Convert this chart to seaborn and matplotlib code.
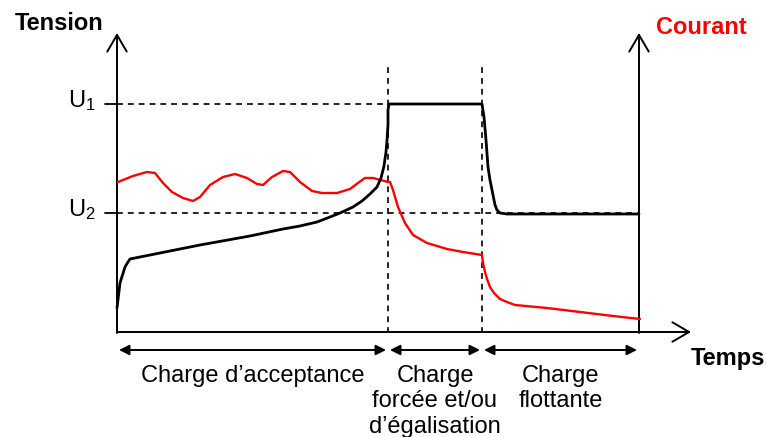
import matplotlib
matplotlib.use("Agg")
import matplotlib.pyplot as plt
import seaborn as sns

# chart units: time = pixels right of the vertical axis, level = pixels above the time axis
tension_t = [0, 3, 8, 11, 13, 83, 133, 166, 183, 200, 213, 223, 236, 245, 253, 260, 264,
             267, 269, 270, 271, 271, 272,
             365, 367, 369, 371, 373, 375, 378, 380, 383, 390, 522]
tension_v = [25, 50, 66, 71, 74, 88, 97, 104, 107, 111, 116, 120, 126, 132, 139, 146, 155,
             167, 181, 193, 208, 223, 229,
             229, 216, 193, 166, 153, 143, 128, 123, 120, 119, 119]

courant_t = [1, 16, 30, 38, 46, 55, 66, 76, 83, 93, 106, 118, 130, 140, 146, 155, 166, 173,
             183, 195, 205, 220, 233, 241, 248, 256, 271, 273, 276, 281, 288, 296, 310, 330,
             346, 365, 366, 368, 370, 373, 377, 383, 390, 398, 430, 463, 496, 523]
courant_v = [151, 157, 161, 160, 150, 141, 135, 132, 136, 148, 156, 159, 155, 149, 148, 156,
             162, 161, 151, 142, 140, 140, 144, 150, 155, 155, 151, 151, 143, 126, 110, 98,
             90, 84, 81, 78, 70, 61, 54, 46, 40, 34, 31, 28, 25, 21, 17, 14]

u_levels = [229, 120]
u_labels = ["U$_{1}$", "U$_{2}$"]
phase_bounds = [0, 271, 365, 522]
phase_labels = ["Charge d\u2019acceptance", "Charge\nforcée et/ou\nd\u2019égalisation",
                "Charge\nflottante"]

sns.set_style("white")
plt.rcParams["font.family"] = ["Liberation Sans", "DejaVu Sans"]
plt.rcParams["text.color"] = "black"
plt.rcParams["mathtext.fontset"] = "custom"
plt.rcParams["mathtext.rm"] = "Liberation Sans"
plt.rcParams["mathtext.it"] = "Liberation Sans"

fig = plt.figure(figsize=(7.67, 4.37), dpi=100)
ax = fig.add_axes([0, 0, 1, 1])
ax.set_xlim(-117, 650)
ax.set_ylim(-104, 333)
ax.axis("off")

dash = (0, (3.5, 3))

# reference levels U1 / U2
for lvl, lab, end in zip(u_levels, u_labels, [phase_bounds[1], phase_bounds[3]]):
    ax.plot([-12, 0], [lvl, lvl], color="black", lw=1.3)
    ax.plot([0, end], [lvl, lvl], color="black", lw=1.2, linestyle=dash)
    ax.text(-21, lvl + 3, lab, fontsize=17, ha="right", va="center")

# phase separators
for b in phase_bounds[1:3]:
    ax.plot([b, b], [0, 266], color="black", lw=1.2, linestyle=dash)

sns.lineplot(x=tension_t, y=tension_v, color="black", lw=2, sort=False,
             estimator=None, ax=ax, zorder=5)
sns.lineplot(x=courant_t, y=courant_v, color="red", lw=1.7, sort=False,
             estimator=None, ax=ax, zorder=4)

# axes with open arrowheads
open_head = dict(arrowstyle="->,head_length=1.2,head_width=0.7", lw=1.4,
                 color="black", shrinkA=0, shrinkB=0)
ax.annotate("", xy=(0, 300), xytext=(0, 0), arrowprops=open_head)
ax.annotate("", xy=(phase_bounds[3], 300), xytext=(phase_bounds[3], 0), arrowprops=open_head)
ax.annotate("", xy=(574, 1), xytext=(0, 1), arrowprops=open_head)

# phase ranges
fill_head = dict(arrowstyle="<|-|>,head_length=0.6,head_width=0.3", lw=1.4,
                 color="black", shrinkA=0, shrinkB=0)
for (a, b), lab in zip(zip(phase_bounds[:-1], phase_bounds[1:]), phase_labels):
    ax.annotate("", xy=(a + 2, -17), xytext=(b - 2, -17), arrowprops=fill_head)
    ax.text((a + b) / 2, -32, lab, fontsize=17, ha="center", va="top", linespacing=1.2)

ax.text(-102, 309, "Tension", fontsize=17, fontweight="bold", ha="left", va="center")
ax.text(539, 305, "Courant", fontsize=17, fontweight="bold", color="red",
        ha="left", va="center")
ax.text(574, -25, "Temps", fontsize=17, fontweight="bold", ha="left", va="center")

fig.savefig("out.png", dpi=100)
